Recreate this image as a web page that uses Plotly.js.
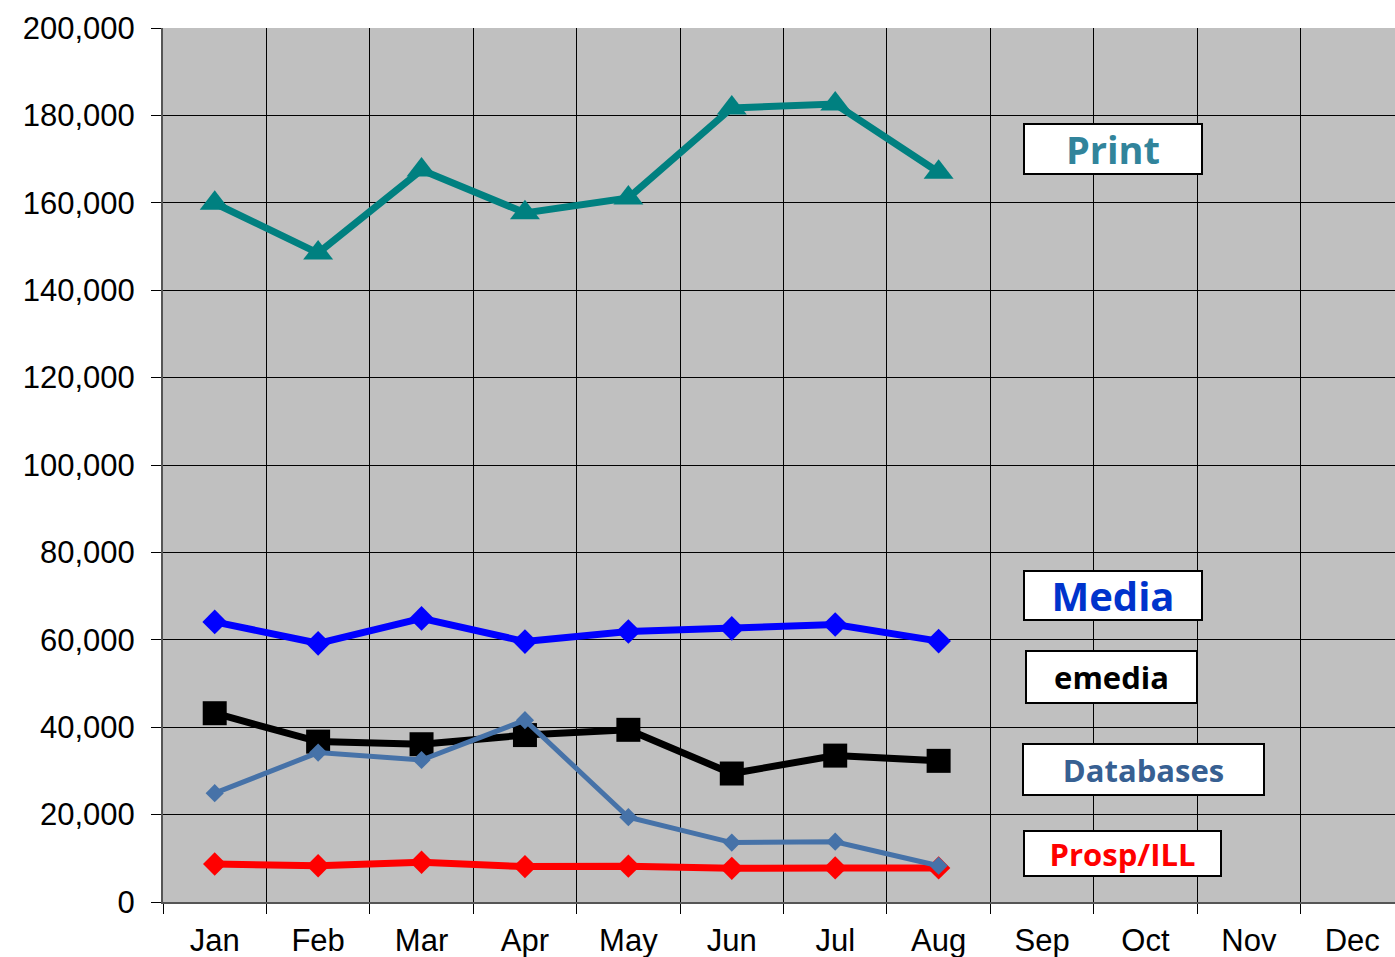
<!DOCTYPE html>
<html>
<head>
<meta charset="utf-8">
<script src="https://cdn.plot.ly/plotly-3.0.1.min.js"></script>
<style>html,body{margin:0;padding:0;background:#fff;}#chart{width:1395px;height:957px;}</style>
</head>
<body>
<div id="chart"></div>
<script>
var months = ["Jan","Feb","Mar","Apr","May","Jun","Jul","Aug","Sep","Oct","Nov","Dec"];
var dataMonths = ["Jan","Feb","Mar","Apr","May","Jun","Jul","Aug"];
var printVals = [159900, 148500, 167500, 157700, 161100, 181700, 182600, 167000];
var mediaVals = [64100, 59200, 64900, 59600, 61900, 62600, 63500, 59700];
var emediaVals = [43200, 36700, 36100, 38200, 39400, 29400, 33500, 32300];
var prospVals = [8700, 8300, 9100, 8100, 8200, 7700, 7800, 7800];
var dbVals = [24900, 34200, 32500, 41600, 19400, 13600, 13800, 8300];
var seriesNames = ["Print","Media","emedia","Databases","Prosp/ILL"];

function trace(name, y, color, lw, sym, size){
  return {x: dataMonths, y: y, name: name, type: 'scatter', mode: 'lines+markers',
    line: {color: color, width: lw},
    marker: {symbol: sym, size: size, color: color, line: {width: 0}},
    hoverinfo: 'skip', cliponaxis: false};
}
var traces = [
  trace(seriesNames[0], printVals, '#008080', 7, 'triangle-up', 26),
  trace(seriesNames[1], mediaVals, '#0000FF', 7, 'diamond', 19),
  trace(seriesNames[2], emediaVals, '#000000', 7, 'square', 24),
  trace(seriesNames[4], prospVals, '#FF0000', 7, 'diamond', 18),
  trace(seriesNames[3], dbVals, '#4672A8', 5, 'diamond', 14)
];

function box(text, x, y, w, h, color, size){
  return {text: '<b>' + text + '</b>', xref: 'paper', yref: 'paper', x: x, y: y,
    xanchor: 'center', yanchor: 'middle', showarrow: false,
    width: w, height: h, bgcolor: '#FFFFFF', bordercolor: '#000000', borderwidth: 2, borderpad: 0,
    font: {family: 'Open Sans, sans-serif', size: size, color: color}, align: 'center', valign: 'middle'};
}

var layout = {
  width: 1395, height: 957,
  margin: {l: 163, r: 0, t: 28, b: 55},
  paper_bgcolor: '#FFFFFF', plot_bgcolor: '#C0C0C0',
  showlegend: false,
  font: {family: 'Liberation Sans, Arial, sans-serif', size: 31, color: '#000'},
  xaxis: {type: 'category', categoryorder: 'array', categoryarray: months,
    range: [-0.5, 11.413], tickson: 'boundaries', ticks: 'outside', ticklen: 10, tickwidth: 1, tickcolor: '#000',
    showgrid: true, gridcolor: '#000', gridwidth: 1,
    showline: true, linecolor: '#555', linewidth: 2, zeroline: false,
    tickfont: {size: 31, color: '#000'}, ticklabelstandoff: 10, fixedrange: true},
  yaxis: {range: [0, 200000], dtick: 20000, tick0: 0, tickformat: ',d',
    ticks: 'outside', ticklen: 10, tickwidth: 1, tickcolor: '#000',
    showgrid: true, gridcolor: '#000', gridwidth: 1,
    showline: true, linecolor: '#555', linewidth: 2, zeroline: false,
    tickfont: {size: 31, color: '#000'}, ticklabelstandoff: 10, fixedrange: true},
  annotations: [
    box(seriesNames[0], 0.7711, 0.8616, 176, 48, '#31849B', 38),
    box(seriesNames[1], 0.7711, 0.3507, 176, 47, '#0033CC', 40),
    box(seriesNames[2], 0.7699, 0.2574, 169, 50, '#000000', 31),
    box(seriesNames[3], 0.7959, 0.1516, 239, 49, '#376092', 31),
    box(seriesNames[4], 0.7788, 0.0555, 195, 43, '#FF0000', 31)
  ]
};
Plotly.newPlot('chart', traces, layout, {displayModeBar: false, staticPlot: true});
</script>
</body>
</html>
